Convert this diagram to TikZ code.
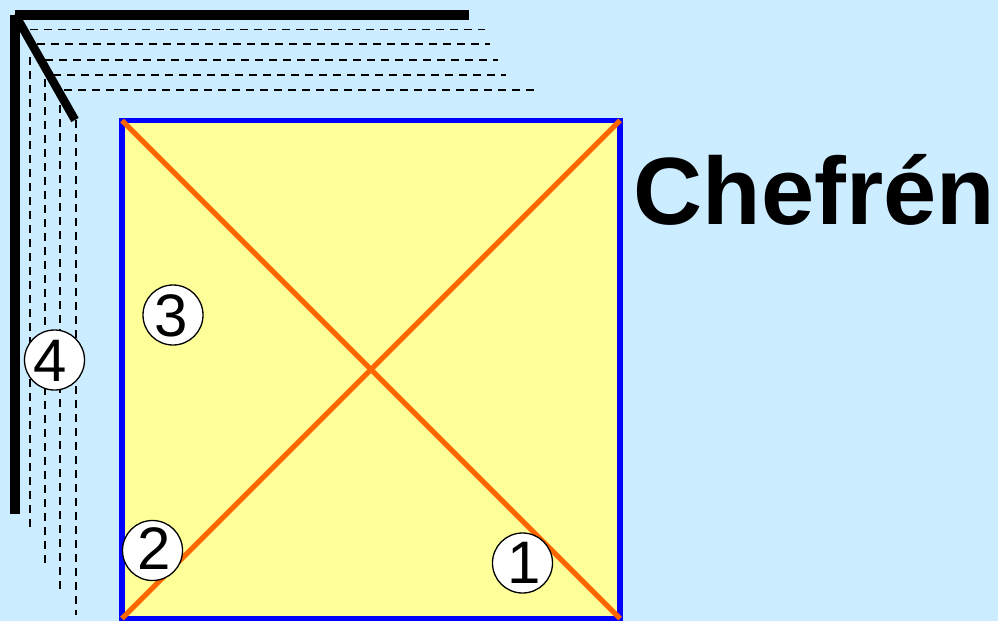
\documentclass[tikz,border=0pt]{standalone}
\usepackage{fontspec}
\setmainfont{Liberation Sans}
\definecolor{bgblue}{RGB}{204,236,255}
\definecolor{sqyellow}{RGB}{255,255,153}
\definecolor{diagorange}{RGB}{255,102,0}
\tikzset{
  heavy/.style={line width=10pt,black},
  heavydiag/.style={line width=8.5pt,black},
  dashline/.style={line width=1.7pt,black,dash pattern=on 8pt off 6pt},
  numcirc/.style={circle,draw=black,line width=1.3pt,fill=white,minimum size=60pt,inner sep=0pt},
  numtext/.style={inner sep=0pt,font=\fontsize{60}{60}\selectfont},
  sqedge/.style={line width=5.5pt,blue},
  diag/.style={line width=5pt,diagorange,line cap=butt}
}
\begin{document}
\begin{tikzpicture}[x=1pt,y=-1pt]
\useasboundingbox (0,0) rectangle (998,621);
\fill[bgblue] (0,0) rectangle (998,621);
% named points
\coordinate (tl) at (122,120.5);
\coordinate (tr) at (620,120.5);
\coordinate (br) at (620,618.5);
\coordinate (bl) at (122,618.5);
% dashed lines
\draw[dashline] (30,29.5) -- (485,29.5);
\draw[dashline] (37,44) -- (490,44);
\draw[dashline] (45,60) -- (498,60);
\draw[dashline] (53,75) -- (506,75);
\draw[dashline] (64,90) -- (534,90);
\draw[dashline] (30,57) -- (30,527);
\draw[dashline] (45,79) -- (45,563);
\draw[dashline] (60,105) -- (60,590);
\draw[dashline] (76,120) -- (76,615);
% heavy corner
\coordinate (corner) at (15,14.5);
\coordinate (hend) at (469,14.5);
\coordinate (vend) at (15,514);
\coordinate (dend) at (75,120);
\draw[heavy] (15,14.5) -- (vend);
\draw[heavy] (15,14.5) -- (hend);
\draw[heavydiag] (corner) -- (dend);
% square
\fill[sqyellow] (tl) -- (tr) -- (br) -- (bl) -- cycle;
\draw[sqedge] (tl) -- (tr) -- (br) -- (bl) -- cycle;
\draw[diag] (tl) -- (br);
\draw[diag] (bl) -- (tr);
% labels
\node[numcirc] (n3) at (173,315) {};
\node[numtext] at (171,316) {3};
\node[numcirc] (n4) at (54.5,360) {};
\node[numtext] at (50,361) {4};
\node[numcirc] (n2) at (152.5,550.5) {};
\node[numtext] at (154,549) {2};
\node[numcirc] (n1) at (522.5,563) {};
\node[numtext] at (524,563) {1};
\node[anchor=center,font=\bfseries\fontsize{95.6}{96}\selectfont] (title) at (814.5,189.5) {Chefrén};
\end{tikzpicture}
\end{document}
